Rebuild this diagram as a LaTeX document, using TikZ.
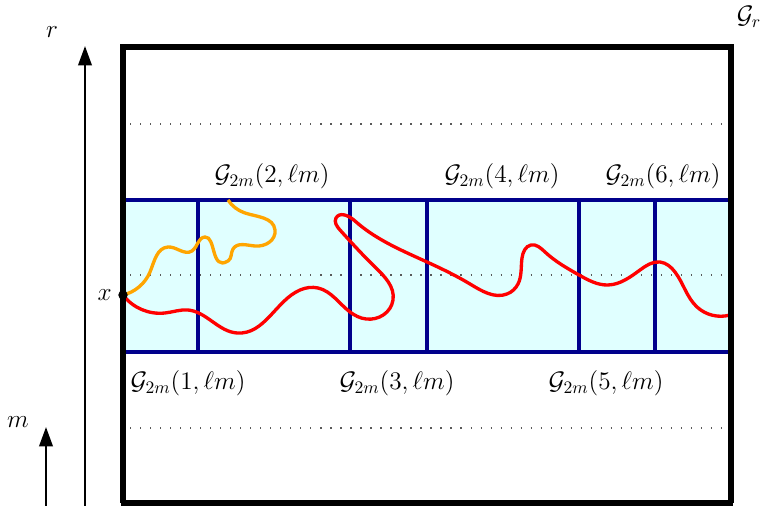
\documentclass[tikz,border=0pt]{standalone}
\usepackage{amsmath, amssymb}
\usepackage{xcolor}
\usepackage{tikz}
\usetikzlibrary{arrows.meta,positioning,hobby}
\definecolor{bandblue}{RGB}{0,0,140}
\definecolor{bandfill}{RGB}{224,255,255}
\definecolor{walkorange}{RGB}{255,165,0}
\tikzset{
  outer box/.style={
    line width=2.9pt
  },
  band line/.style={
    bandblue,line width=2.1pt
  },
  level line/.style={
    black!65,line width=0.7pt,dash pattern=on 0.7pt off 5pt
  },
  axis arrow/.style={
    line width=1.4pt,-{Triangle[length=3.9mm,width=2.7mm]}
  },
  walk/.style={
    line width=1.9pt,use Hobby shortcut
  },
  start point/.style={
    circle,fill=black,inner sep=1.9pt
  }
}

\begin{document}
\begin{tikzpicture}[x=0.02cm,y=-0.02cm,font=\fontsize{14}{17}\selectfont]
  \useasboundingbox (0,0) rectangle (764,506);

  % band of boxes
  \fill[bandfill] (123,200) rectangle (731,352);
  \foreach \y in {124,275,428}
    \draw[level line] (130,\y) -- (725,\y);
  \draw[band line] (123,200) rectangle (731,352);
  \foreach \x in {198,350,427,579,655}
    \draw[band line] (\x,200) -- (\x,352);

  % walks from x
  \draw[walk,walkorange] (123,295) .. (150,272) .. (168,247)
    .. (192,251) .. (205,237) .. (228,261) .. (233,249) .. (255,246)
    .. (275,230) .. (245,213) .. (228,200);
  \draw[walk,red] (123,295) .. (165,313) .. (188,310) .. (237,333)
    .. (300,290) .. (318,288) .. (350,312) .. (366,319) .. (393,300)
    .. (375,267) .. (340,230) .. (336,218) .. (355,221) .. (427,262)
    .. (470,284) .. (507,294) .. (518,284) .. (522,258) .. (531,245)
    .. (545,252) .. (579,275) .. (608,285) .. (640,270) .. (660,262)
    .. (675,272) .. (697,307) .. (730,315);

  \draw[outer box] (123,503) -- (123,47) -- (731,47) -- (731,503);
  \draw[outer box] (121,503) -- (733,503);

  \node[start point] (xpt) at (123,295) {};
  \node[left=0pt of xpt] (xlab) {$x$};

  % axes
  \coordinate (r0) at (85,506);
  \coordinate (r1) at (85,46);
  \coordinate (m0) at (46,506);
  \coordinate (m1) at (46,427);
  \draw[axis arrow] (r0) -- (r1);
  \draw[axis arrow] (m0) -- (m1);
  \node (rlab) at (52,32) {$r$};
  \node (mlab) at (18,422) {$m$};
  \node (grlab) at (749,17) {$\mathcal{G}_r$};

  % box names
  \node (g1) at (188,383) {$\mathcal{G}_{2m}(1,\ell m)$};
  \node (g2) at (272,176) {$\mathcal{G}_{2m}(2,\ell m)$};
  \node (g3) at (397,383) {$\mathcal{G}_{2m}(3,\ell m)$};
  \node (g4) at (502,176) {$\mathcal{G}_{2m}(4,\ell m)$};
  \node (g5) at (606,383) {$\mathcal{G}_{2m}(5,\ell m)$};
  \node (g6) at (663,176) {$\mathcal{G}_{2m}(6,\ell m)$};
\end{tikzpicture}
\end{document}
